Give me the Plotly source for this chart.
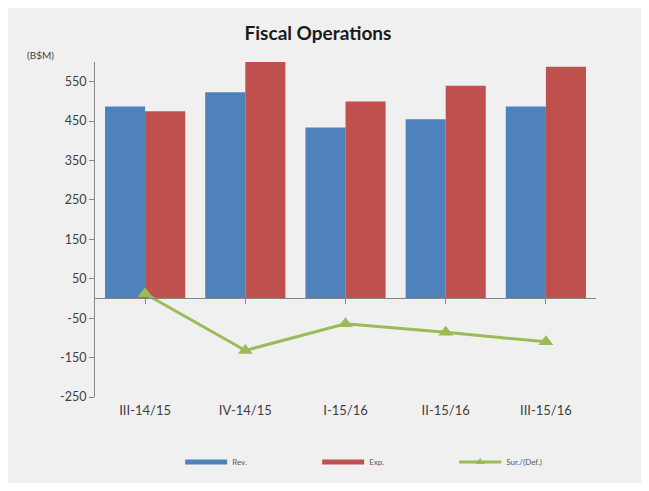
import plotly.graph_objects as go

# Quarterly fiscal operations, B$ millions
quarters = ["III-14/15", "IV-14/15", "I-15/16", "II-15/16", "III-15/16"]
revenue = [487, 523, 434, 455, 487]
expenditure = [475, 600, 500, 540, 588]
surplus_deficit = [12, -132, -64, -86, -110]
y_tick_values = [-250, -150, -50, 50, 150, 250, 350, 450, 550]
y_tick_labels = ["-250", "-150", "-50", "50", "150", "250", "350", "450", "550"]

BLUE = "#4f81bd"
RED = "#c0504d"
GREEN = "#9bbb59"
AXIS_GRAY = "#868686"
TEXT = "#404040"

W, H = 649, 491
L, R, T, B = 95, 53, 62, 94
Y_MIN, Y_MAX = -250, 600

fig = go.Figure()

fig.add_trace(go.Bar(x=quarters, y=revenue, name="Rev.", marker_color=BLUE,
                     marker_line_width=0, showlegend=False))
fig.add_trace(go.Bar(x=quarters, y=expenditure, name="Exp.", marker_color=RED,
                     marker_line_width=0, showlegend=False))
fig.add_trace(go.Scatter(x=quarters, y=surplus_deficit, name="Sur./(Def.)",
                         xaxis="x2", mode="lines+markers",
                         line=dict(color=GREEN, width=3),
                         marker=dict(symbol="triangle-up", size=13, color=GREEN),
                         showlegend=False))

# legend entries drawn as wide swatches
fig.add_trace(go.Scatter(x=[None], y=[None], name="Rev.", mode="lines",
                         line=dict(color=BLUE, width=5)))
fig.add_trace(go.Scatter(x=[None], y=[None], name="Exp.", mode="lines",
                         line=dict(color=RED, width=5)))
fig.add_trace(go.Scatter(x=[None], y=[None], name="Sur./(Def.)", mode="lines+markers",
                         line=dict(color=GREEN, width=3),
                         marker=dict(symbol="triangle-up", size=8, color=GREEN)))

zero_pos = (0 - Y_MIN) / (Y_MAX - Y_MIN)

fig.update_layout(
    width=W, height=H,
    margin=dict(l=L, r=R, t=T, b=B),
    paper_bgcolor="white",
    plot_bgcolor="white",
    font=dict(family="Lato, 'Open Sans', sans-serif", color=TEXT),
    barmode="group",
    bargap=0.2,
    bargroupgap=0,
    title=dict(text="<b>Fiscal Operations</b>", x=0.49, xanchor="center",
               y=1 - 33 / H, yanchor="middle",
               font=dict(size=19, color="#1a1a1a")),
    xaxis=dict(type="category", categoryorder="array", categoryarray=quarters,
               range=[-0.5, 4.5], showline=False, ticks="", showgrid=False,
               ticklabelstandoff=4,
               tickfont=dict(size=13, color=TEXT)),
    xaxis2=dict(type="category", categoryorder="array", categoryarray=quarters,
                range=[-0.5, 4.5], overlaying="x", anchor="free",
                position=zero_pos, side="bottom",
                showline=True, linecolor=AXIS_GRAY, linewidth=1,
                ticks="outside", ticklen=5, tickcolor=AXIS_GRAY,
                showticklabels=False, showgrid=False),
    yaxis=dict(range=[Y_MIN, Y_MAX], tickmode="array",
               tickvals=y_tick_values, ticktext=y_tick_labels,
               showline=True, linecolor=AXIS_GRAY, linewidth=1,
               ticks="outside", ticklen=5, tickcolor=AXIS_GRAY,
               showgrid=False, zeroline=False,
               tickfont=dict(size=12.5, color=TEXT)),
    legend=dict(orientation="h", x=0.17, xanchor="left",
                y=-(462 - (H - B)) / (H - T - B), yanchor="middle",
                itemwidth=42, entrywidth=80, entrywidthmode="pixels",
                font=dict(size=8, color="#595959"),
                bgcolor="rgba(0,0,0,0)"),
    shapes=[dict(type="rect", xref="paper", yref="paper", layer="below",
                 x0=(8 - L) / (W - L - R), x1=(641 - L) / (W - L - R),
                 y0=-(483 - (H - B)) / (H - T - B), y1=1 + (T - 8) / (H - T - B),
                 fillcolor="#f0f0f0", line=dict(width=0))],
    annotations=[dict(text="(B$M)", xref="paper", yref="paper",
                      x=(40 - L) / (W - L - R), y=1 + (T - 55) / (H - T - B),
                      xanchor="center", yanchor="middle", showarrow=False,
                      font=dict(size=10, color=TEXT))],
)

fig.write_html("out.html")
